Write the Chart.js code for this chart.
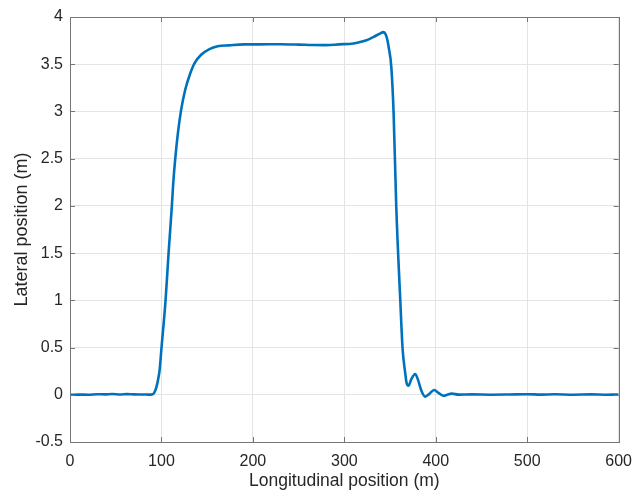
<!DOCTYPE html>
<html>
<head>
<meta charset="utf-8">
<script src="https://cdn.jsdelivr.net/npm/chart.js@4/dist/chart.umd.min.js"></script>
<style>
  html, body { margin: 0; padding: 0; background: #fff; }
  #wrap { width: 642px; height: 495px; }
</style>
</head>
<body>
<div id="wrap"><canvas id="c" width="642" height="495"></canvas></div>
<script>
// longitudinal position (m)
const xPos = [0, 10, 20, 30, 38, 46, 55, 62, 70, 80, 86, 90, 92, 94.5, 96.5, 98, 100,
  104.5, 107.8, 111.4, 112.9, 115.1, 118, 121.6, 126, 131.4, 136.1, 143.4, 152.5,
  161.5, 174, 190, 207, 230, 250, 265, 280, 294, 310, 319.4, 326, 332.1, 338, 343,
  345, 347, 348.5, 351.4, 353.9, 356.8, 361.2, 363.7, 366.6, 368, 370.2, 373.5,
  377.5, 380.5, 384, 388.4, 393, 398.2, 403, 408.4, 412.5, 417.4, 425, 440, 460,
  480, 500, 515, 530, 550, 570, 585, 600];
// lateral position (m)
const yPos = [0, 0.002, 0.001, 0.006, 0.004, 0.008, 0.003, 0.007, 0.004, 0.003, 0.002, 0.004, 0.02, 0.08, 0.17, 0.26, 0.49,
  1.0, 1.5, 2.0, 2.24, 2.5, 2.77, 3.02, 3.23, 3.4, 3.51, 3.6, 3.66,
  3.69, 3.70, 3.71, 3.71, 3.712, 3.708, 3.703, 3.702, 3.71, 3.72, 3.74, 3.76, 3.79, 3.82, 3.84,
  3.82, 3.76, 3.68, 3.47, 2.98, 1.99, 1.0, 0.49, 0.23, 0.13, 0.095, 0.17,
  0.22, 0.16, 0.05, -0.02, 0.01, 0.05, 0.02, -0.01, 0.0, 0.012, 0.002, 0.004, 0.001,
  0.003, 0.006, 0.002, 0.005, 0.001, 0.004, 0.001, 0.002];

const xTicks = [0, 100, 200, 300, 400, 500, 600];
const yTicks = [-0.5, 0, 0.5, 1, 1.5, 2, 2.5, 3, 3.5, 4];

const axisColor = '#767676';
const textColor = '#262626';
const fontFamily = 'Liberation Sans, Arial, sans-serif';

// MATLAB style box with inward ticks
const boxPlugin = {
  id: 'box',
  afterDatasetsDraw(chart) {
    const {ctx, chartArea: a, scales: {x, y}} = chart;
    const tl = 5;
    ctx.save();
    ctx.strokeStyle = axisColor;
    ctx.lineWidth = 1;
    ctx.beginPath();
    xTicks.forEach(v => {
      const px = Math.round(x.getPixelForValue(v)) + 0.5;
      ctx.moveTo(px, a.bottom); ctx.lineTo(px, a.bottom - tl);
      ctx.moveTo(px, a.top); ctx.lineTo(px, a.top + tl);
    });
    yTicks.forEach(v => {
      const py = Math.round(y.getPixelForValue(v)) + 0.5;
      ctx.moveTo(a.left, py); ctx.lineTo(a.left + tl, py);
      ctx.moveTo(a.right, py); ctx.lineTo(a.right - tl, py);
    });
    ctx.stroke();
    ctx.strokeRect(Math.round(a.left) + 0.5, Math.round(a.top) + 0.5,
      Math.round(a.right - a.left), Math.round(a.bottom - a.top));
    ctx.restore();
  }
};

new Chart(document.getElementById('c'), {
  type: 'line',
  data: {
    datasets: [{
      data: xPos.map((v, i) => ({x: v, y: yPos[i]})),
      borderColor: '#0072BD',
      borderWidth: 2.6,
      pointRadius: 0,
      cubicInterpolationMode: 'monotone',
      fill: false
    }]
  },
  options: {
    responsive: false,
    animation: false,
    events: [],
    layout: { padding: { left: 0, right: 21, top: 17, bottom: 0 } },
    plugins: { legend: { display: false }, tooltip: { enabled: false } },
    scales: {
      x: {
        type: 'linear',
        min: 0, max: 600,
        afterBuildTicks: s => { s.ticks = xTicks.map(v => ({value: v})); },
        afterFit: s => { s.height = 53; },
        grid: { color: '#e4e4e4', drawTicks: false },
        border: { display: false },
        ticks: { color: textColor, padding: 10, maxRotation: 0,
          callback: v => String(v),
          font: { family: fontFamily, size: 16 } },
        title: { display: true, text: 'Longitudinal position (m)', color: textColor,
          padding: { top: 0, bottom: 3 },
          font: { family: fontFamily, size: 17.5 } }
      },
      y: {
        type: 'linear',
        min: -0.5, max: 4,
        afterBuildTicks: s => { s.ticks = yTicks.map(v => ({value: v})); },
        afterFit: s => { s.width = 70; },
        grid: { color: '#e4e4e4', drawTicks: false },
        border: { display: false },
        ticks: { color: textColor, padding: 7,
          callback: v => String(v),
          font: { family: fontFamily, size: 16 } },
        title: { display: true, text: 'Lateral position (m)', color: textColor,
          padding: { top: 11, bottom: 0 },
          font: { family: fontFamily, size: 18 } }
      }
    }
  },
  plugins: [boxPlugin]
});
</script>
</body>
</html>
